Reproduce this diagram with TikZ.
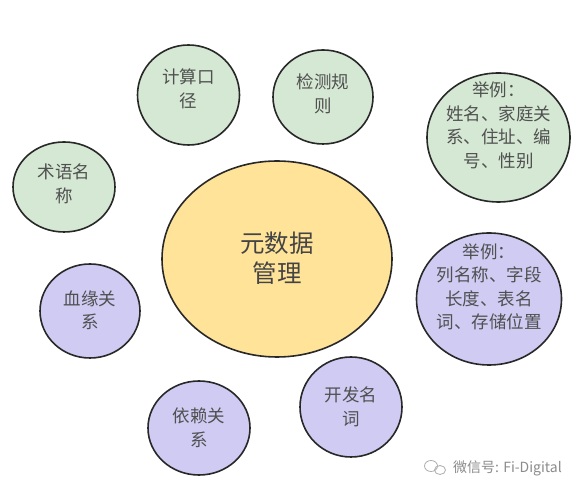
\documentclass[tikz,border=0pt]{standalone}
\usepackage{fontspec}
\newfontfamily\cjkfont{Noto Sans CJK SC}
\usetikzlibrary{shapes.geometric}

\definecolor{lineColor}{RGB}{40,40,40}
\definecolor{textColor}{RGB}{80,80,80}
\definecolor{greenFill}{RGB}{213,232,212}
\definecolor{purpleFill}{RGB}{207,203,243}
\definecolor{yellowFill}{RGB}{255,227,153}
\definecolor{markColor}{RGB}{140,140,140}

\tikzset{
  bubble/.style={ellipse, draw=lineColor, line width=1.6pt, inner sep=0pt},
  greenBubble/.style={bubble, fill=greenFill},
  purpleBubble/.style={bubble, fill=purpleFill},
  metaBubble/.style={bubble, fill=yellowFill},
  bubbleText/.style={align=center, inner sep=0pt, text=textColor,
    font=\cjkfont\fontsize{17.5}{23.5}\selectfont},
  metaText/.style={bubbleText, text=textColor!85!black,
    font=\cjkfont\fontsize{24.5}{30}\selectfont},
  markText/.style={text=markColor, inner sep=0pt, font=\cjkfont\fontsize{14}{16}\selectfont}
}

\begin{document}
\begin{tikzpicture}[x=1pt,y=1pt]
\path[use as bounding box,fill=white] (0,0) rectangle (580,494);

% centre
\node[metaBubble,minimum width=230pt,minimum height=196pt] (meta) at (277,235) {};
\node[metaText] (metaLabel) at ([yshift=1pt]meta.center) {元数据\\管理};

% green ring
\node[greenBubble,minimum width=102pt,minimum height=100pt] (calc) at (188.5,399) {};
\node[greenBubble,minimum width=100pt,minimum height=94pt] (check) at (323,397) {};
\node[greenBubble,minimum width=102pt,minimum height=90pt] (term) at (64,307) {};
\node[greenBubble,minimum width=143pt,minimum height=129pt] (exA) at (498.5,356.5) {};
\node[bubbleText] (calcLabel) at ([yshift=6pt]calc.center) {计算口\\径};
\node[bubbleText] (checkLabel) at ([yshift=3pt]check.center) {检测规\\则};
\node[bubbleText] (termLabel) at ([yshift=3pt]term.center) {术语名\\称};
\node[bubbleText] (exALabel) at ([yshift=12pt]exA.center) {举例：\\姓名、家庭关\\系、住址、编\\号、性别};

% purple ring
\node[purpleBubble,minimum width=100pt,minimum height=94pt] (lineage) at (90,183) {};
\node[purpleBubble,minimum width=145pt,minimum height=132pt] (exB) at (489,195) {};
\node[purpleBubble,minimum width=102pt,minimum height=94pt] (dep) at (199,66) {};
\node[purpleBubble,minimum width=102pt,minimum height=100pt] (dev) at (351,87) {};
\node[bubbleText] (lineageLabel) at ([yshift=1pt]lineage.center) {血缘关\\系};
\node[bubbleText] (exBLabel) at ([yshift=12pt]exB.center) {举例：\\列名称、字段\\长度、表名\\词、存储位置};
\node[bubbleText] (depLabel) at (dep.center) {依赖关\\系};
\node[bubbleText] (devLabel) at (dev.center) {开发名\\词};

% watermark
\node[markText,anchor=west] (mark) at (453,26) {微信号: Fi-Digital};
\draw[markColor!70,line width=0.8pt] ([xshift=-22pt,yshift=2pt]mark.west) ellipse (6.5 and 5.5);
\draw[markColor!70,line width=0.8pt] ([xshift=-13pt,yshift=-2pt]mark.west) ellipse (5.5 and 4.5);
\end{tikzpicture}
\end{document}
